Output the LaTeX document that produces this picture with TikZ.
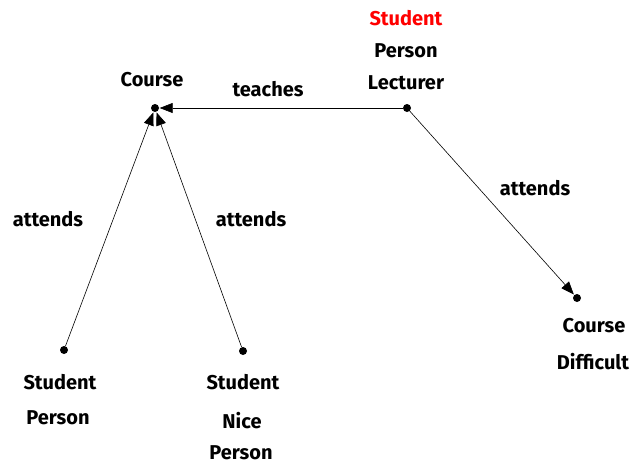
\documentclass[tikz,border=0pt]{standalone}
\usepackage{fontspec}
\setmainfont{Fira Sans}
\usetikzlibrary{arrows.meta,positioning}
\tikzset{
  dot/.style={circle, fill=black, inner sep=0pt, minimum size=8pt},
  lbl/.style={font=\fontsize{20}{22}\selectfont\bfseries, inner sep=1pt},
  arr/.style={-{Triangle[length=13pt,width=10pt]}, line width=0.6pt, shorten >=0.5pt}
}
\begin{document}
\begin{tikzpicture}[x=1pt,y=-1pt]
	\useasboundingbox (0,0) rectangle (633,466);
	% dots
	\node[dot] (course) at (155,108) {};
	\node[dot] (lect) at (407,108) {};
	\node[dot] (stud) at (64,350) {};
	\node[dot] (nice) at (243,351) {};
	\node[dot] (diff) at (577,298) {};

	% labels of the dots
	\node[lbl] (courseT) at (152,80) {Course};
	\node[lbl, text=red] (lectA) at (406,18) {Student};
	\node[lbl] (lectB) at (406,51) {Person};
	\node[lbl] (lectC) at (406,83) {Lecturer};
	\node[lbl] (studA) at (60,382) {Student};
	\node[lbl] (studB) at (58,418) {Person};
	\node[lbl] (niceA) at (243,382) {Student};
	\node[lbl] (niceB) at (242,421) {Nice};
	\node[lbl] (niceC) at (241,453) {Person};
	\node[lbl] (diffA) at (594,326) {Course};
	\node[lbl] (diffB) at (593,362) {Difficult};

	% edges
	\draw[arr] (lect) -- (course);
	\draw[arr] (stud) -- (course);
	\draw[arr] (nice) -- (course);
	\draw[arr] (lect) -- (diff);
	\node[lbl] (teaches) at (268,89) {teaches};
	\node[lbl] (att1) at (48,219) {attends};
	\node[lbl] (att2) at (251,219) {attends};
	\node[lbl] (att3) at (535,188) {attends};
\end{tikzpicture}
\end{document}
